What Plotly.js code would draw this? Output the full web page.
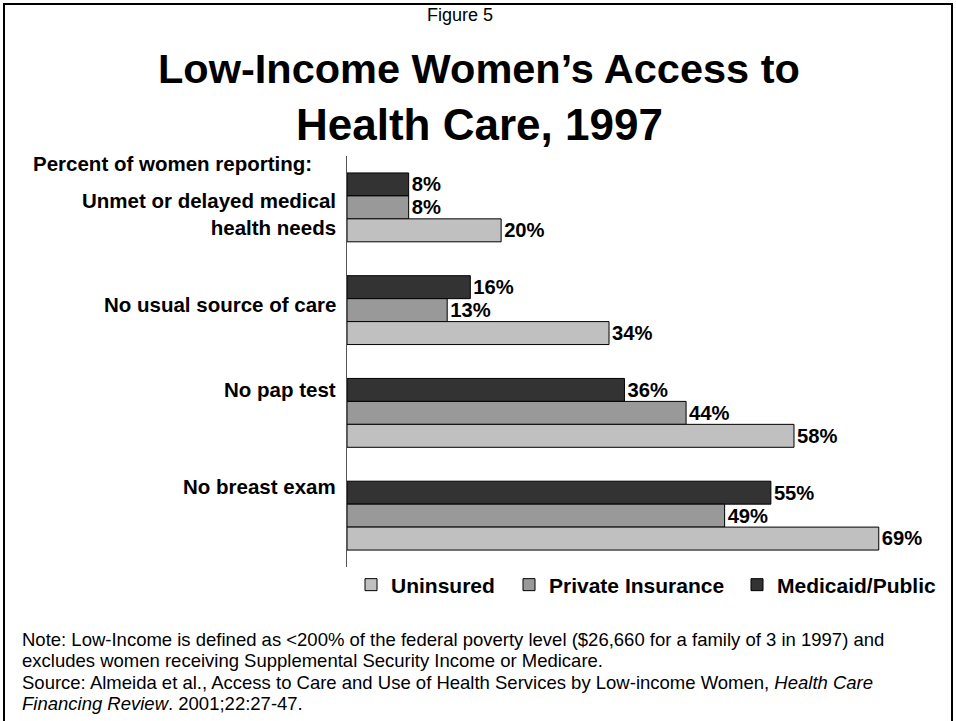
<!DOCTYPE html>
<html>
<head>
<meta charset="utf-8">
<script src="https://cdn.plot.ly/plotly-3.0.1.min.js"></script>
<style>
html,body{margin:0;padding:0;background:#fff;}
#chart{width:956px;height:721px;}
</style>
</head>
<body>
<div id="chart"></div>
<script>
// ---- data ----
const categories = ["Unmet or delayed medical<br>health needs", "No usual source of care", "No pap test", "No breast exam"];
const seriesNames = ["Medicaid/Public", "Private Insurance", "Uninsured"];
const medicaid = [8, 16, 36, 55];
const privateIns = [8, 13, 44, 49];
const uninsured = [20, 34, 58, 69];
const titleLines = ["Low-Income Women’s Access to", "Health Care, 1997"];
const figureLabel = "Figure 5";
const yLabel = "Percent of women reporting:";
const noteLines = [
  "Note: Low-Income is defined as <200% of the federal poverty level ($26,660 for a family of 3 in 1997) and",
  "excludes women receiving Supplemental Security Income or Medicare.",
  "Source: Almeida et al., Access to Care and Use of Health Services by Low-income Women, <i>Health Care</i>",
  "<i>Financing Review</i>. 2001;22:27-47."
];

// ---- style ----
const FONT = "Liberation Sans, Arial, Helvetica, sans-serif";
const colors = ["#333333", "#999999", "#c0c0c0"];
const legendIds = ["legend3", "legend2", "legend"];
const legendX = {legend: 351, legend2: 509, legend3: 737}; // pixel left of each legend entry
const labelShift = [-7, 6, 23, 29];      // vertical pixel tweaks for category labels (positive = up)
const titleLineY = [69, 124];            // pixel centres of title lines
const titleLineSize = [41.5, 44];
const noteLineY = [639, 660, 682, 703];  // pixel centres of note lines

const values = [medicaid, privateIns, uninsured];
const traces = values.map((v, i) => ({
  type: "bar",
  orientation: "h",
  name: seriesNames[i],
  legend: legendIds[i],
  y: categories,
  x: v,
  text: v.map(d => d + "%"),
  textposition: "outside",
  textfont: {family: FONT, size: 22, color: "#000", weight: "bold"},
  cliponaxis: false,
  marker: {color: colors[i], line: {color: "#000", width: 1}},
  hoverinfo: "x+name"
}));

// convert pixel to paper coords (plot area: x 347..925, y 156..567)
const L = 347, R = 31, T = 156, B = 154, W = 956, H = 721;
const pw = W - L - R, ph = H - T - B;
const px = x => (x - L) / pw;
const py = y => (H - B - y) / ph;

const annotations = [
  {text: figureLabel, xref: "paper", yref: "paper", x: px(460), y: py(15), xanchor: "center", yanchor: "middle",
   showarrow: false, font: {family: FONT, size: 18, color: "#000"}},
  {text: "<b>" + yLabel + "</b>", xref: "paper", yref: "paper", x: px(31), y: py(163), xanchor: "left", yanchor: "middle",
   showarrow: false, font: {family: FONT, size: 20.5, color: "#000"}}
];
titleLines.forEach((t, i) => annotations.push({
  text: "<b>" + t + "</b>", xref: "paper", yref: "paper", x: px(479), y: py(titleLineY[i]), xanchor: "center", yanchor: "middle",
  showarrow: false, font: {family: FONT, size: titleLineSize[i], color: "#000"}
}));
noteLines.forEach((t, i) => annotations.push({
  text: t, xref: "paper", yref: "paper", x: px(20), y: py(noteLineY[i]), xanchor: "left", yanchor: "middle",
  align: "left", showarrow: false, font: {family: FONT, size: 18.5, color: "#000"}
}));
categories.forEach((c, i) => {
  annotations.push({text: "<b>" + c + "</b>", xref: "paper", yref: "y", x: 0, y: c, xanchor: "right", yanchor: "middle",
    xshift: -9, yshift: labelShift[i], align: "right", showarrow: false, font: {family: FONT, size: 20.5, color: "#000"}});
});

const legendStyle = id => ({orientation: "h", x: px(legendX[id]), y: py(585), xanchor: "left", yanchor: "middle",
  font: {family: FONT, size: 21, color: "#000", weight: "bold"}, bgcolor: "rgba(0,0,0,0)", itemwidth: 30});

const layout = {
  width: W, height: H,
  margin: {l: L, r: R, t: T, b: B, pad: 0},
  paper_bgcolor: "#fff", plot_bgcolor: "#fff",
  barmode: "group", bargap: 0.33, bargroupgap: 0,
  font: {family: FONT, color: "#000"},
  xaxis: {range: [0, 75], visible: false, showgrid: false, zeroline: false, fixedrange: true},
  yaxis: {autorange: "reversed", type: "category", showticklabels: false, ticks: "", showgrid: false,
          zeroline: false, showline: true, linecolor: "#555", linewidth: 1, fixedrange: true},
  showlegend: true,
  legend: legendStyle("legend"),
  legend2: legendStyle("legend2"),
  legend3: legendStyle("legend3"),
  annotations: annotations,
  shapes: [{type: "path", xref: "paper", yref: "paper",
            path: `M ${px(4)} ${py(721)} L ${px(4)} ${py(4)} L ${px(952)} ${py(4)} L ${px(952)} ${py(721)}`,
            line: {color: "#000", width: 2}, fillcolor: "rgba(0,0,0,0)"}]
};

Plotly.newPlot("chart", traces, layout, {displayModeBar: false, staticPlot: true});
</script>
</body>
</html>
